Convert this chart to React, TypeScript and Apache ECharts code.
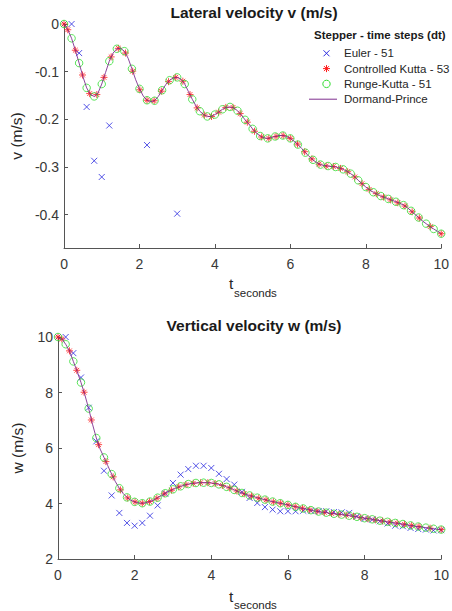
import { useEffect, useRef } from "react";
import * as echarts from "echarts";

const FONT = "'Liberation Sans', Arial, Helvetica, sans-serif";

// time grids
const T_STEP = [0, 0.2, 0.4, 0.6, 0.8, 1, 1.2, 1.4, 1.6, 1.8, 2, 2.2, 2.4, 2.6, 2.8, 3, 3.2, 3.4, 3.6, 3.8, 4, 4.2, 4.4, 4.6, 4.8, 5, 5.2, 5.4, 5.6, 5.8, 6, 6.2, 6.4, 6.6, 6.8, 7, 7.2, 7.4, 7.6, 7.8, 8, 8.2, 8.4, 8.6, 8.8, 9, 9.2, 9.4, 9.6, 9.8, 10];
const T_DENSE = [0, 0.1, 0.2, 0.3, 0.4, 0.5, 0.6, 0.7, 0.8, 0.9, 1, 1.1, 1.2, 1.3, 1.4, 1.5, 1.6, 1.7, 1.8, 1.9, 2, 2.1, 2.2, 2.3, 2.4, 2.5, 2.6, 2.7, 2.8, 2.9, 3, 3.1, 3.2, 3.3, 3.4, 3.5, 3.6, 3.7, 3.8, 3.9, 4, 4.1, 4.2, 4.3, 4.4, 4.5, 4.6, 4.7, 4.8, 4.9, 5, 5.1, 5.2, 5.3, 5.4, 5.5, 5.6, 5.7, 5.8, 5.9, 6, 6.1, 6.2, 6.3, 6.4, 6.5, 6.6, 6.7, 6.8, 6.9, 7, 7.1, 7.2, 7.3, 7.4, 7.5, 7.6, 7.7, 7.8, 7.9, 8, 8.1, 8.2, 8.3, 8.4, 8.5, 8.6, 8.7, 8.8, 8.9, 9, 9.1, 9.2, 9.3, 9.4, 9.5, 9.6, 9.7, 9.8, 9.9, 10];
const T_CK = [0, 0.1, 0.3, 0.49, 0.68, 0.87, 1.06, 1.25, 1.44, 1.63, 1.82, 2.01, 2.2, 2.39, 2.58, 2.77, 2.96, 3.15, 3.34, 3.53, 3.72, 3.91, 4.1, 4.29, 4.48, 4.67, 4.86, 5.05, 5.24, 5.43, 5.62, 5.81, 6.0, 6.19, 6.38, 6.57, 6.76, 6.95, 7.14, 7.33, 7.52, 7.71, 7.9, 8.09, 8.28, 8.47, 8.66, 8.85, 9.04, 9.23, 9.42, 9.71, 10];

// Lateral velocity v
const EULER_V_T = [0, 0.2, 0.4, 0.6, 0.8, 1.0, 1.2, 2.2, 3.0];
const EULER_V = [0, 0, -0.061, -0.174, -0.287, -0.321, -0.213, -0.254, -0.398];
const CK_V = [0, -0.012, -0.055, -0.107, -0.146, -0.148, -0.112, -0.069, -0.051, -0.061, -0.099, -0.138, -0.160, -0.161, -0.141, -0.121, -0.112, -0.120, -0.148, -0.176, -0.191, -0.194, -0.185, -0.175, -0.175, -0.188, -0.206, -0.225, -0.237, -0.240, -0.236, -0.234, -0.240, -0.252, -0.268, -0.283, -0.294, -0.298, -0.299, -0.303, -0.310, -0.321, -0.335, -0.347, -0.356, -0.363, -0.369, -0.375, -0.382, -0.394, -0.407, -0.425, -0.440];
const RK_V = [0, -0.030, -0.082, -0.134, -0.152, -0.126, -0.078, -0.052, -0.057, -0.094, -0.136, -0.160, -0.161, -0.139, -0.118, -0.112, -0.126, -0.158, -0.183, -0.194, -0.190, -0.179, -0.174, -0.182, -0.201, -0.220, -0.235, -0.240, -0.236, -0.234, -0.240, -0.253, -0.270, -0.285, -0.295, -0.298, -0.300, -0.305, -0.314, -0.328, -0.342, -0.353, -0.361, -0.367, -0.373, -0.380, -0.392, -0.406, -0.419, -0.430, -0.440];
const DP_V = [0, -0.012, -0.030, -0.055, -0.082, -0.110, -0.134, -0.148, -0.152, -0.145,
  -0.126, -0.102, -0.078, -0.061, -0.052, -0.051, -0.057, -0.072, -0.094, -0.117,
  -0.136, -0.151, -0.160, -0.163, -0.161, -0.152, -0.139, -0.127, -0.118, -0.113,
  -0.112, -0.116, -0.126, -0.142, -0.158, -0.172, -0.183, -0.190, -0.194, -0.194,
  -0.190, -0.185, -0.179, -0.175, -0.174, -0.176, -0.182, -0.191, -0.201, -0.210,
  -0.220, -0.229, -0.235, -0.239, -0.240, -0.238, -0.236, -0.234, -0.234, -0.236,
  -0.240, -0.246, -0.253, -0.261, -0.270, -0.278, -0.285, -0.291, -0.295, -0.297,
  -0.298, -0.299, -0.300, -0.302, -0.305, -0.309, -0.314, -0.320, -0.328, -0.335,
  -0.342, -0.348, -0.353, -0.357, -0.361, -0.364, -0.367, -0.370, -0.373, -0.376,
  -0.380, -0.385, -0.392, -0.399, -0.406, -0.413, -0.419, -0.425, -0.430, -0.435,
  -0.440];

// Vertical velocity w
const EULER_W = [10.0, 10.0, 9.42, 8.54, 7.45, 6.24, 5.18, 4.29, 3.66, 3.30, 3.20, 3.30, 3.56, 3.93, 4.36, 4.74, 5.04, 5.24, 5.36, 5.36, 5.28, 5.07, 4.88, 4.68, 4.42, 4.20, 4.02, 3.87, 3.78, 3.72, 3.72, 3.72, 3.74, 3.74, 3.72, 3.72, 3.69, 3.68, 3.66, 3.54, 3.45, 3.42, 3.36, 3.28, 3.20, 3.18, 3.12, 3.08, 3.06, 3.03, 3.04];
const CK_W = [10.0, 9.93, 9.50, 8.80, 8.01, 7.01, 6.12, 5.51, 4.96, 4.49, 4.20, 4.06, 4.01, 4.07, 4.19, 4.35, 4.48, 4.60, 4.68, 4.73, 4.75, 4.75, 4.72, 4.65, 4.56, 4.45, 4.35, 4.27, 4.19, 4.13, 4.06, 4.01, 3.95, 3.89, 3.83, 3.77, 3.72, 3.68, 3.64, 3.61, 3.58, 3.54, 3.49, 3.45, 3.41, 3.37, 3.33, 3.29, 3.25, 3.21, 3.17, 3.11, 3.06];
const RK_W = [10.0, 9.74, 9.12, 8.36, 7.42, 6.36, 5.66, 5.06, 4.55, 4.22, 4.06, 4.01, 4.07, 4.21, 4.37, 4.51, 4.62, 4.70, 4.74, 4.75, 4.74, 4.69, 4.60, 4.49, 4.38, 4.29, 4.21, 4.14, 4.07, 4.01, 3.95, 3.88, 3.82, 3.76, 3.71, 3.67, 3.63, 3.60, 3.56, 3.52, 3.47, 3.43, 3.38, 3.34, 3.30, 3.26, 3.21, 3.17, 3.13, 3.09, 3.06];
const DP_W = [10.0, 9.93, 9.74, 9.50, 9.12, 8.76, 8.36, 7.92, 7.42, 6.86,
  6.36, 5.96, 5.66, 5.36, 5.06, 4.78, 4.55, 4.36, 4.22, 4.12,
  4.06, 4.02, 4.01, 4.03, 4.07, 4.13, 4.21, 4.29, 4.37, 4.44,
  4.51, 4.57, 4.62, 4.66, 4.70, 4.72, 4.74, 4.75, 4.75, 4.75,
  4.74, 4.72, 4.69, 4.65, 4.60, 4.55, 4.49, 4.43, 4.38, 4.33,
  4.29, 4.25, 4.21, 4.17, 4.14, 4.10, 4.07, 4.04, 4.01, 3.98,
  3.95, 3.92, 3.88, 3.85, 3.82, 3.79, 3.76, 3.73, 3.71, 3.69,
  3.67, 3.65, 3.63, 3.62, 3.60, 3.58, 3.56, 3.54, 3.52, 3.49,
  3.47, 3.45, 3.43, 3.40, 3.38, 3.36, 3.34, 3.32, 3.30, 3.28,
  3.26, 3.24, 3.21, 3.19, 3.17, 3.15, 3.13, 3.11, 3.09, 3.07,
  3.06];

const X_TICKS = [0, 2, 4, 6, 8, 10];
const V_TICKS = [-0.4, -0.3, -0.2, -0.1, 0];
const W_TICKS = [2, 4, 6, 8, 10];

const NAMES = ["Euler - 51", "Controlled Kutta - 53", "Runge-Kutta - 51", "Dormand-Prince"];
const COLORS = ["#2a2ae0", "#ff1a1a", "#33dd33", "#7E2F8E"];

const pairs = (t: number[], v: number[]) => t.map((x, i) => [x, v[i]]);

const X_PATH = "path://M0,0L10,10M10,0L0,10";
const STAR_PATH = "path://M5,0L5,10M0,5L10,5M1.6,1.6L8.4,8.4M8.4,1.6L1.6,8.4";

export default function App() {
  const ref = useRef<HTMLDivElement>(null);
  useEffect(() => {
    const chart = echarts.init(ref.current as HTMLDivElement, null, { renderer: "svg" });
    const axisColor = "#555555";
    const xAxis = (gridIndex: number) => ({
      type: "value",
      gridIndex,
      min: 0,
      max: 10,
      interval: 2,
      axisLine: { show: true, onZero: false, lineStyle: { color: axisColor, width: 1 } },
      axisTick: { show: true, inside: true, length: 4, lineStyle: { color: axisColor } },
      axisLabel: { fontSize: 14, color: "#383838", fontFamily: FONT, margin: 9, customValues: X_TICKS },
      splitLine: { show: false },
    });
    const yAxis = (gridIndex: number, min: number, max: number, ticks: number[], name: string) => ({
      type: "value",
      gridIndex,
      min,
      max,
      name,
      nameLocation: "middle",
      nameGap: 33,
      nameRotate: 90,
      nameTextStyle: { fontSize: 15.5, color: "#262626", fontFamily: FONT },
      axisLine: { show: true, onZero: false, lineStyle: { color: axisColor, width: 1 } },
      axisTick: { show: true, inside: true, length: 4, lineStyle: { color: axisColor }, customValues: ticks },
      axisLabel: {
        fontSize: 14,
        color: "#383838",
        fontFamily: FONT,
        margin: 5,
        customValues: ticks,
        formatter: (v: number) => (Math.abs(v) < 1e-9 ? "0" : Math.abs(v) < 1 ? v.toFixed(1) : String(v)),
      },
      splitLine: { show: false },
    });
    const seriesFor = (idx: number, euler: number[][], ck: number[][], rk: number[][], dp: number[][]) => [
      {
        name: NAMES[0],
        type: "scatter",
        xAxisIndex: idx,
        yAxisIndex: idx,
        symbol: X_PATH,
        symbolSize: 6,
        itemStyle: { color: "none", borderColor: COLORS[0], borderWidth: 1 },
        data: euler,
        clip: true,
      },
      {
        name: NAMES[1],
        type: "scatter",
        xAxisIndex: idx,
        yAxisIndex: idx,
        symbol: STAR_PATH,
        symbolSize: 7,
        itemStyle: { color: "none", borderColor: COLORS[1], borderWidth: 1 },
        data: ck,
        clip: true,
      },
      {
        name: NAMES[2],
        type: "scatter",
        xAxisIndex: idx,
        yAxisIndex: idx,
        symbol: "circle",
        symbolSize: 7.5,
        itemStyle: { color: "none", borderColor: COLORS[2], borderWidth: 1 },
        data: rk,
        clip: true,
      },
      {
        name: NAMES[3],
        type: "line",
        xAxisIndex: idx,
        yAxisIndex: idx,
        symbol: "none",
        showSymbol: false,
        lineStyle: { color: COLORS[3], width: 0.9 },
        itemStyle: { color: COLORS[3] },
        data: dp,
      },
    ];

    const txt = (x: number, y: number, text: string, size: number, bold: boolean, align = "center", fill = "#1a1a1a") => ({
      type: "text",
      x,
      y,
      silent: true,
      style: {
        text,
        fill,
        font: `${bold ? "bold " : ""}${size}px ${FONT}`,
        textAlign: align,
        textVerticalAlign: "middle",
      },
    });
    const seg = (x1: number, y1: number, x2: number, y2: number, stroke: string) => ({
      type: "line",
      silent: true,
      shape: { x1, y1, x2, y2 },
      style: { stroke, lineWidth: 1 },
    });

    // legend (drawn as graphic elements)
    const LX = 326.5;
    const LY = [53.3, 68.6, 83.9, 99.2];
    const legendItems: any[] = [
      txt(314, 35, "Stepper - time steps (dt)", 11.5, true, "left"),
      seg(LX - 3, LY[0] - 3, LX + 3, LY[0] + 3, COLORS[0]),
      seg(LX - 3, LY[0] + 3, LX + 3, LY[0] - 3, COLORS[0]),
      seg(LX, LY[1] - 3.5, LX, LY[1] + 3.5, COLORS[1]),
      seg(LX - 3.5, LY[1], LX + 3.5, LY[1], COLORS[1]),
      seg(LX - 2.5, LY[1] - 2.5, LX + 2.5, LY[1] + 2.5, COLORS[1]),
      seg(LX - 2.5, LY[1] + 2.5, LX + 2.5, LY[1] - 2.5, COLORS[1]),
      { type: "circle", silent: true, shape: { cx: LX, cy: LY[2], r: 3.7 }, style: { fill: "none", stroke: COLORS[2], lineWidth: 1 } },
      seg(309, LY[3], 337, LY[3], COLORS[3]),
      ...NAMES.map((n, i) => txt(344, LY[i], n, 11.5, false, "left", "#262626")),
    ];

    chart.setOption({
      animation: false,
      backgroundColor: "#ffffff",
      grid: [
        { left: 58, top: 24, width: 389, height: 224 },
        { left: 58, top: 337, width: 389, height: 222 },
      ],
      xAxis: [xAxis(0), xAxis(1)],
      yAxis: [
        yAxis(0, -0.47, 0, V_TICKS, "v (m/s)"),
        yAxis(1, 2, 10, W_TICKS, "w (m/s)"),
      ],
      graphic: [
        txt(254, 12, "Lateral velocity v (m/s)", 15.5, true),
        txt(254, 325, "Vertical velocity w (m/s)", 15.5, true),
        txt(229, 283, "t", 15.5, false, "left", "#262626"),
        txt(234, 293, "seconds", 11.5, false, "left", "#262626"),
        txt(229, 596, "t", 15.5, false, "left", "#262626"),
        txt(234, 605, "seconds", 11.5, false, "left", "#262626"),
        ...legendItems,
      ],
      series: [
        ...seriesFor(0, pairs(EULER_V_T, EULER_V), pairs(T_CK, CK_V), pairs(T_STEP, RK_V), pairs(T_DENSE, DP_V)),
        ...seriesFor(1, pairs(T_STEP, EULER_W), pairs(T_CK, CK_W), pairs(T_STEP, RK_W), pairs(T_DENSE, DP_W)),
      ],
    });
    return () => chart.dispose();
  }, []);
  return <div ref={ref} style={{ position: "fixed", left: 0, top: 0, width: 452, height: 611 }} />;
}
